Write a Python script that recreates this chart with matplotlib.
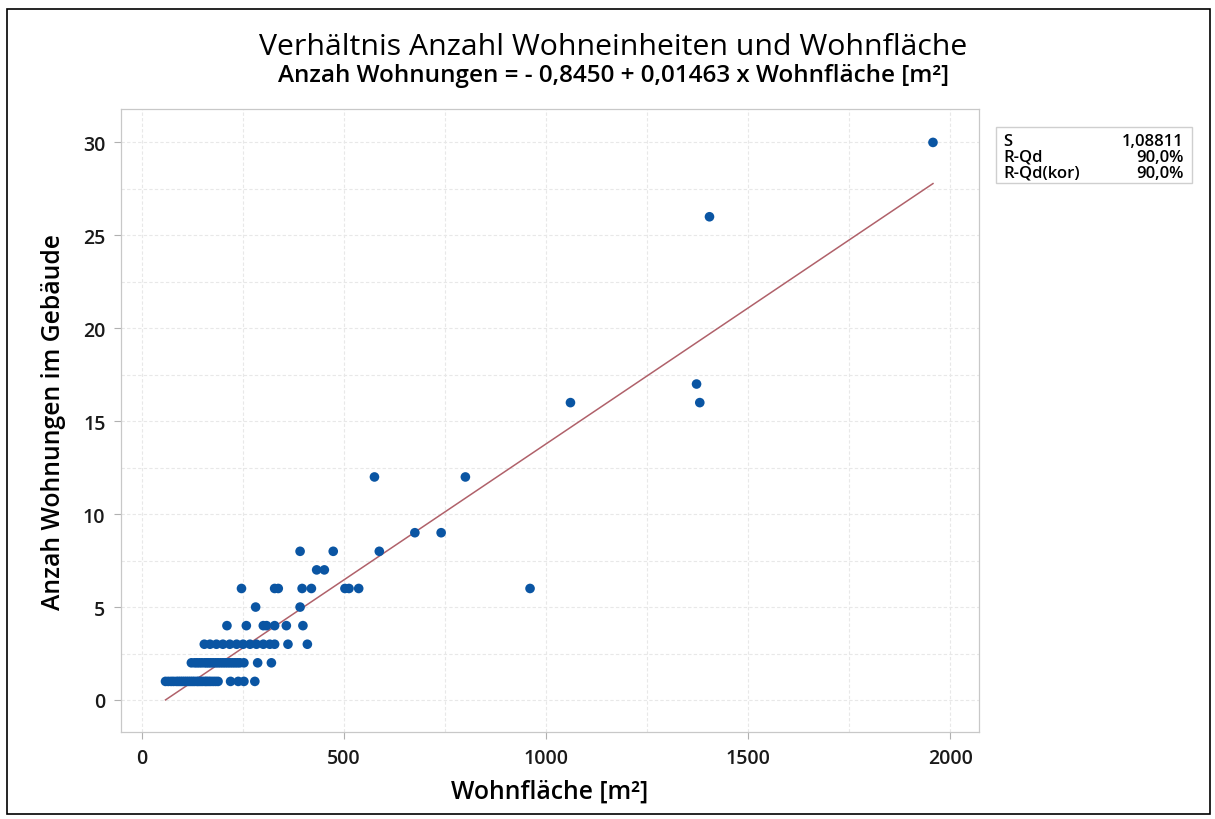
import numpy as np
import matplotlib.pyplot as plt
from matplotlib.ticker import MultipleLocator
from matplotlib.patches import Rectangle

plt.rcParams['font.family'] = ['Open Sans', 'DejaVu Sans']

# Wohnfläche [m²] je Zeile mit gleicher Anzahl Wohnungen
flaeche_1 = [58, 65, 72, 78, 85, 90, 95, 100, 105, 110, 115, 120, 125, 130, 136,
             140, 145, 150, 156, 160, 165, 170, 176, 182, 188, 219, 238, 252, 279]
flaeche_2 = [122, 130, 136, 142, 148, 155, 160, 165, 170, 176, 182, 188, 194, 200,
             206, 212, 218, 224, 230, 236, 242, 252, 286, 320]
flaeche_3 = [154, 168, 184, 200, 217, 234, 250, 267, 283, 300, 316, 328, 361, 409]
flaeche_4 = [210, 258, 300, 308, 328, 357, 398]
flaeche_5 = [281, 391]
flaeche_6 = [246, 328, 337, 396, 419, 502, 512, 536, 960]
flaeche_7 = [432, 451]
flaeche_8 = [391, 473, 587]
flaeche_9 = [675, 740]
flaeche_12 = [575, 800]
flaeche_16 = [1060, 1380]
flaeche_17 = [1372]
flaeche_26 = [1404]
flaeche_30 = [1957]

zeilen = {1: flaeche_1, 2: flaeche_2, 3: flaeche_3, 4: flaeche_4, 5: flaeche_5,
          6: flaeche_6, 7: flaeche_7, 8: flaeche_8, 9: flaeche_9, 12: flaeche_12,
          16: flaeche_16, 17: flaeche_17, 26: flaeche_26, 30: flaeche_30}

# Regressionskoeffizienten
achsenabschnitt = -0.8450
steigung = 0.01463

stat_namen = ['S', 'R-Qd', 'R-Qd(kor)']
stat_werte = ['1,08811', '90,0%', '90,0%']

x = []
y = []
for anzahl, werte in zeilen.items():
    x += werte
    y += [anzahl] * len(werte)
x = np.array(x, dtype=float)
y = np.array(y, dtype=float)

fig = plt.figure(figsize=(12.15, 8.2), dpi=100)
ax = fig.add_axes([0.0993, 0.1057, 0.7065, 0.7602])

# Gitter
ax.xaxis.set_major_locator(MultipleLocator(500))
ax.xaxis.set_minor_locator(MultipleLocator(250))
ax.yaxis.set_major_locator(MultipleLocator(5))
ax.yaxis.set_minor_locator(MultipleLocator(2.5))
ax.grid(True, which='both', color='#e8e8e8', lw=0.8, ls=(0, (3, 2)))
ax.set_axisbelow(True)

xl = np.array([x.min(), x.max()])
ax.plot(xl, achsenabschnitt + steigung * xl, color='#b0616a', lw=1.1, zorder=2)
ax.scatter(x, y, s=48, color='#0a55a3', edgecolors='none', zorder=3)

ax.set_xlim(-53, 2071)
ax.set_ylim(-1.74, 31.8)

for sp in ax.spines.values():
    sp.set_color('#c8c8c8')
    sp.set_linewidth(0.9)
ax.tick_params(which='major', length=5, color='#b0b0b0', labelsize=14,
               labelcolor='#1a1a1a', pad=6)
ax.tick_params(which='minor', length=0)
for lab in ax.get_xticklabels() + ax.get_yticklabels():
    lab.set_fontweight('semibold')

ax.set_xlabel('Wohnfläche [m²]', fontsize=17.8, fontweight='semibold', labelpad=8)
ax.set_ylabel('Anzah Wohnungen im Gebäude', fontsize=17.8, fontweight='semibold',
              labelpad=12)

fig.text(0.505, 0.942, 'Verhältnis Anzahl Wohneinheiten und Wohnfläche',
         ha='center', va='center', fontsize=21.8, fontweight='medium')
fig.text(0.505, 0.907, 'Anzah Wohnungen = - 0,8450 + 0,01463 x Wohnfläche [m²]',
         ha='center', va='center', fontsize=17.5, fontweight='semibold')

# Statistik-Box
fig.patches.append(Rectangle((996 / 1215, 1 - 184 / 820), 196 / 1215, 56 / 820,
                             transform=fig.transFigure, facecolor='white',
                             edgecolor='#cfcfcf', lw=1))
for i, (n, w) in enumerate(zip(stat_namen, stat_werte)):
    yy = 1 - (142 + i * 16) / 820
    fig.text(1003 / 1215, yy, n, ha='left', va='center', fontsize=12,
             fontweight='semibold')
    fig.text(1184 / 1215, yy, w, ha='right', va='center', fontsize=12,
             fontweight='semibold')

# Rahmen um die Grafik
fig.patches.append(Rectangle((7 / 1215, 5 / 820), 1203 / 1215, 805 / 820,
                             transform=fig.transFigure, facecolor='none',
                             edgecolor='black', lw=1.2))

fig.savefig('out.png', dpi=100)
